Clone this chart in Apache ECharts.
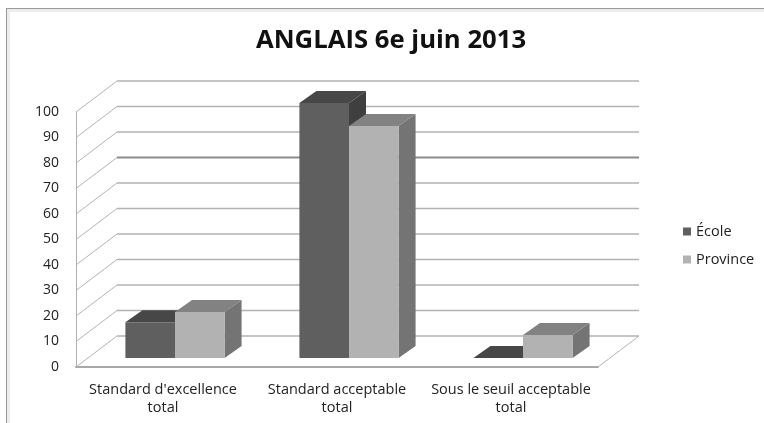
<!DOCTYPE html>
<html>
<head>
<meta charset="utf-8">
<style>
  html, body { margin: 0; padding: 0; background: #fff; }
  #chart { width: 764px; height: 423px; filter: blur(0.4px); }
</style>
<script src="https://cdn.jsdelivr.net/npm/echarts@6/dist/echarts.min.js"></script>
</head>
<body>
<div id="chart"></div>
<script>
const titleText = "ANGLAIS 6e juin 2013";
const categories = ["Standard d'excellence\ntotal", "Standard acceptable\ntotal", "Sous le seuil acceptable\ntotal"];
const ecole = [14, 100, 0];
const province = [18, 91, 9];
const yTicks = [0, 10, 20, 30, 40, 50, 60, 70, 80, 90, 100];

// fake 3D: offsets from the front of the floor
const wallDx = 41, wallDy = -31;
const barDx = 12, barDy = -9;
const depthDx = 17, depthDy = -12;
const barShare = 0.285;

const chart = echarts.init(document.getElementById("chart"));

const renderWall = (params, api) => {
  const v = api.value(1);
  const cs = params.coordSys;
  const y = api.coord([0, v])[1];
  const x0 = cs.x, x1 = cs.x + cs.width;
  const dark = v === 70;
  const back = { stroke: dark ? "#8c8c8c" : "#b2b2b2", lineWidth: dark ? 2 : 1.5 };
  const diag = { stroke: "#b4b4b4", lineWidth: 1 };
  const children = [
    { type: "line", shape: { x1: x0, y1: y, x2: x0 + wallDx, y2: y + wallDy }, style: diag },
    { type: "line", shape: { x1: x0 + wallDx, y1: y + wallDy, x2: x1 + wallDx, y2: y + wallDy }, style: back },
  ];
  if (v === 0) {
    children.push({ type: "line", shape: { x1: x1, y1: y, x2: x1 + wallDx, y2: y + wallDy }, style: diag });
  }
  return { type: "group", children };
};

const renderBar = (side, front, top, right) => (params, api) => {
  const base = api.coord([api.value(0), 0]);
  const peak = api.coord([api.value(0), api.value(1)]);
  const w = api.size([1, 0])[0] * barShare;
  const x0 = base[0] + barDx + (side < 0 ? -w : 0);
  const x1 = x0 + w;
  const yb = base[1] + barDy;
  const yt = peak[1] + barDy;
  return {
    type: "group",
    children: [
      { type: "polygon", shape: { points: [[x1, yb], [x1 + depthDx, yb + depthDy], [x1 + depthDx, yt + depthDy], [x1, yt]] }, style: { fill: right } },
      { type: "polygon", shape: { points: [[x0, yt], [x0 + depthDx, yt + depthDy], [x1 + depthDx, yt + depthDy], [x1, yt]] }, style: { fill: top } },
      { type: "rect", shape: { x: x0, y: yt, width: w, height: yb - yt }, style: { fill: front } },
    ],
  };
};

const toPoints = (list) => list.map((v, i) => [i, v]);

chart.setOption({
  animation: false,
  backgroundColor: "#fff",
  title: {
    text: titleText,
    left: 251,
    top: 23,
    textStyle: { fontFamily: "Open Sans", fontSize: 25.7, fontWeight: 700, color: "#111" },
  },
  legend: {
    orient: "vertical",
    left: 678,
    top: 219,
    itemWidth: 8,
    itemHeight: 8,
    itemGap: 13,
    icon: "rect",
    data: ["École", "Province"],
    textStyle: { fontFamily: "Open Sans", fontSize: 14.5, color: "#222" },
  },
  grid: { left: 76, right: 166, top: 112, bottom: 56 },
  xAxis: {
    type: "category",
    data: categories,
    axisLine: { lineStyle: { color: "#a8a8a8", width: 2 } },
    axisTick: { show: false },
    axisLabel: { interval: 0, margin: 14, lineHeight: 18, fontFamily: "Open Sans", fontSize: 14.5, color: "#222" },
  },
  yAxis: {
    type: "value",
    min: 0,
    max: 100,
    interval: 10,
    splitLine: { show: false },
    axisLine: { show: true, lineStyle: { color: "#b0b0b0", width: 1 } },
    axisTick: { show: false },
    axisLabel: { margin: 17, fontFamily: "Open Sans", fontSize: 14, color: "#222" },
  },
  series: [
    { type: "custom", name: "walls", z: 1, silent: true, data: yTicks.map((v) => [0, v]), renderItem: renderWall },
    {
      type: "custom", name: "École", z: 2, data: toPoints(ecole),
      itemStyle: { color: "#5f5f5f" },
      renderItem: renderBar(-1, "#5f5f5f", "#474747", "#3f3f3f"),
    },
    {
      type: "custom", name: "Province", z: 3, data: toPoints(province),
      itemStyle: { color: "#b2b2b2" },
      renderItem: renderBar(1, "#b2b2b2", "#828282", "#747474"),
    },
  ],
  graphic: [
    { type: "rect", shape: { x: 7, y: 9, width: 757, height: 3 }, style: { fill: "#ececec" } },
    { type: "rect", shape: { x: 7, y: 9, width: 3, height: 414 }, style: { fill: "#ececec" } },
    { type: "line", shape: { x1: 6, y1: 8.5, x2: 764, y2: 8.5 }, style: { stroke: "#9a9a9a", lineWidth: 1 } },
    { type: "line", shape: { x1: 6.5, y1: 8, x2: 6.5, y2: 423 }, style: { stroke: "#9a9a9a", lineWidth: 1 } },
  ],
});

window.addEventListener("resize", () => {
  chart.resize();
});
</script>
</body>
</html>
